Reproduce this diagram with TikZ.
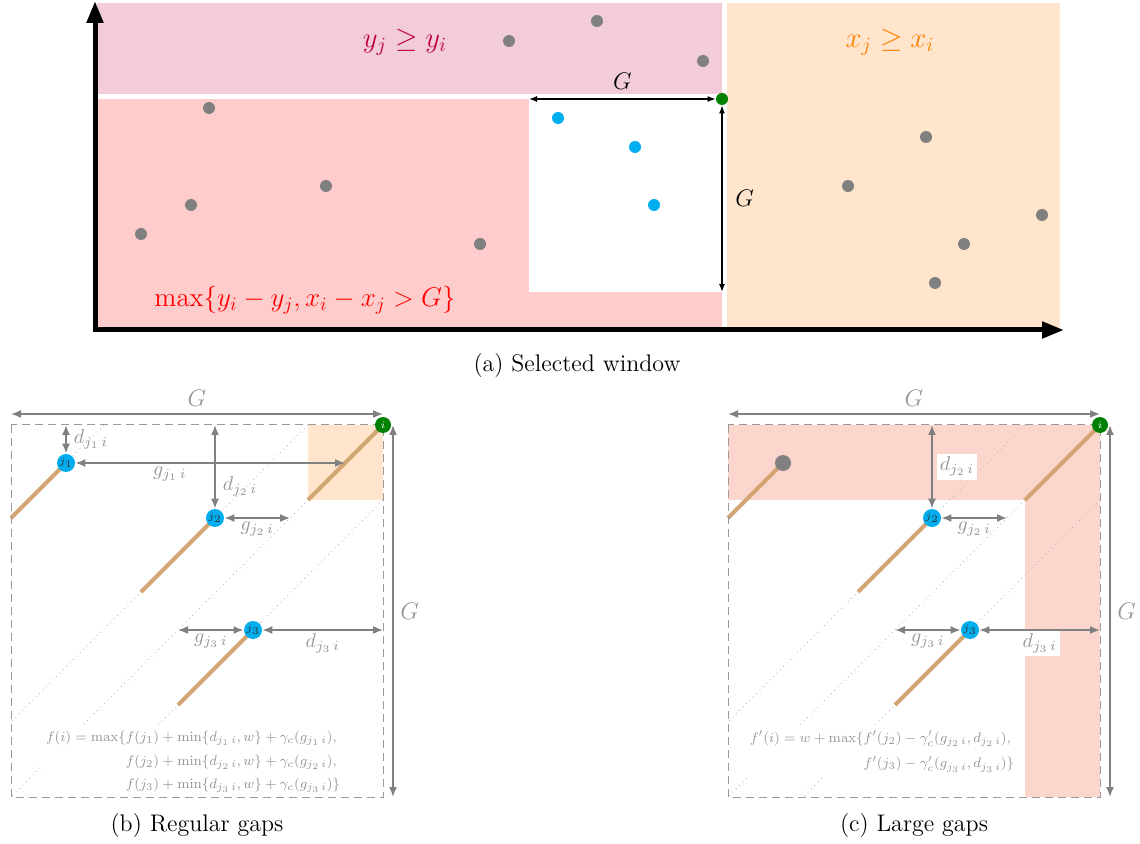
\documentclass[tikz,border=0pt]{standalone}
\usepackage{amsmath,amssymb,graphicx}
\usetikzlibrary{arrows.meta,positioning}
\definecolor{ptcyan}{RGB}{0,174,239}
\definecolor{ptgreen}{RGB}{0,128,0}
\definecolor{chainbrown}{RGB}{212,165,116}
\definecolor{gapred}{RGB}{252,214,204}
\definecolor{lblgray}{RGB}{150,150,150}
\definecolor{arrgray}{RGB}{128,128,128}

\begin{document}
\begin{tikzpicture}[x=0.5pt,y=-0.5pt,every node/.style={font=\small},
  graypt/.style={circle,fill=gray,inner sep=0pt,minimum size=6pt},
  cyanpt/.style={circle,fill=ptcyan,inner sep=0pt,minimum size=6pt},
  jnode/.style={circle,fill=ptcyan,text=black!80,inner sep=0pt,minimum size=9pt,font=\tiny},
  inode/.style={circle,fill=ptgreen,text=white,inner sep=0pt,minimum size=8pt,font=\tiny},
  winarr/.style={black,line width=.6pt,{Latex[length=4pt,width=3pt]}-{Latex[length=4pt,width=3pt]}},
  gaparr/.style={arrgray,line width=.8pt,{Latex[length=5pt,width=4pt]}-{Latex[length=5pt,width=4pt]}},
  gaplbl/.style={text=lblgray,font=\normalsize,inner sep=1.5pt},
  glbl/.style={text=lblgray,font=\large},
  formula/.style={fill=white,text=lblgray,font=\footnotesize,inner sep=2pt},
  diag/.style={gray!60,line width=.4pt,dotted},
  chain/.style={chainbrown,line width=2pt},
  box/.style={arrgray!80,line width=.5pt,dash pattern=on 4pt off 2.5pt}]
\useasboundingbox (0,0) rectangle (1140,844);

% (a) selected window
\fill[purple!20] (97,3) rectangle (722,94);
\fill[red!20] (97,99) rectangle (722,328);
\fill[white] (529,99) rectangle (722,292);
\fill[orange!20] (727,3) rectangle (1060,328);
\coordinate (ytop) at (95,1);
\coordinate (orig) at (95,330);
\coordinate (xend) at (1064,330);
\draw[line width=2.5pt,{Triangle[length=11pt,width=8pt]}-{Triangle[length=11pt,width=8pt]}] (ytop) -- (orig) -- (xend);
\node[text=purple,font=\Large] (ylbl) at (405,42) {$y_j \geq y_i$};
\node[text=red,font=\Large] (mlbl) at (305,300) {\scalebox{.94}{$\max\{y_i-y_j, x_i-x_j>G\}$}};
\node[text=orange,font=\Large] (xlbl) at (890,42) {$x_j \geq x_i$};
\foreach \px/\py [count=\k] in {509/41,597/21,703/61,209/108,191/205,141/234,326/186,480/244,926/137,848/186,1042/215,964/244,935/283}
  \node[graypt] (g\k) at (\px,\py) {};
\node[cyanpt] (c1) at (558,118) {};
\node[cyanpt] (c2) at (635,147) {};
\node[cyanpt] (c3) at (654,205) {};
\node[circle,fill=ptgreen,inner sep=0pt,minimum size=6pt] (ia) at (722,99) {};
\coordinate (wl) at (529,99);
\coordinate (wb) at (722,292);
\draw[winarr] (wl) -- (ia) node[midway,above=1pt,font=\large] {$G$};
\draw[winarr] (ia) -- (wb) node[midway,right=3pt,font=\large] {$G$};
\node[font=\large] (capa) at (577,366) {(a) Selected window};

% (b) regular gaps
\fill[orange!20] (308,425) rectangle (383,500);
\draw[diag] (383,425) -- (11,797);
\draw[diag] (308,425) -- (11,722);
\draw[diag] (104,425) -- (66,463);
\draw[diag] (383,500) -- (86,797);
\draw[chain] (383,425) -- (308,500);
\draw[chain] (66,463) -- (11,518);
\draw[chain] (215,518) -- (141,592);
\draw[chain] (253,630) -- (178,705);
\node[formula] (fb) at (193,762)
  {\scalebox{.87}{\setlength{\jot}{4pt}$\begin{aligned} f(i)=\max\{&f(j_1)+\min\{d_{j_1\,i},w\}+\gamma_c(g_{j_1\,i}),\\
   &f(j_2)+\min\{d_{j_2\,i},w\}+\gamma_c(g_{j_2\,i}),\\
   &f(j_3)+\min\{d_{j_3\,i},w\}+\gamma_c(g_{j_3\,i})\}\end{aligned}$}};
\draw[box] (11,425) rectangle (383,797);
\node[inode] (ib) at (383,425) {$i$};
\node[jnode] (j1b) at (66,463) {$j_1$};
\node[jnode] (j2b) at (215,518) {$j_2$};
\node[jnode] (j3b) at (253,630) {$j_3$};
\coordinate (t1b) at (66,425);
\coordinate (h1b) at (345,463);
\coordinate (t2b) at (215,425);
\coordinate (h2b) at (290,518);
\coordinate (h3b) at (178,630);
\coordinate (r3b) at (383,630);
\draw[gaparr] (t1b) -- (j1b) node[midway,right=2pt,gaplbl] {$d_{j_1\,i}$};
\draw[gaparr] (j1b) -- (h1b) node[pos=.35,below,gaplbl] {$g_{j_1\,i}$};
\draw[gaparr] (t2b) -- (j2b) node[pos=.74,right=2pt,gaplbl] {$d_{j_2\,i}$};
\draw[gaparr] (j2b) -- (h2b) node[midway,below,gaplbl] {$g_{j_2\,i}$};
\draw[gaparr] (h3b) -- (j3b) node[midway,below,gaplbl] {$g_{j_3\,i}$};
\draw[gaparr] (j3b) -- (r3b) node[midway,below,gaplbl] {$d_{j_3\,i}$};
\coordinate (gtlb) at (11,414);
\coordinate (gtrb) at (383,414);
\coordinate (grtb) at (393,425);
\coordinate (grbb) at (393,797);
\draw[gaparr] (gtlb) -- (gtrb) node[midway,above,glbl] {$G$};
\draw[gaparr] (grtb) -- (grbb) node[midway,right,glbl] {$G$};
\node[font=\large] (capb) at (197,826) {(b) Regular gaps};

% (c) large gaps
\fill[gapred] (728,425) rectangle (1100,500);
\fill[gapred] (1025,500) rectangle (1100,797);
\draw[diag] (1025,500) -- (728,797);
\draw[diag] (1025,425) -- (728,722);
\draw[diag] (1100,500) -- (803,797);
\draw[chain] (1100,425) -- (1025,500);
\draw[chain] (783,463) -- (728,518);
\draw[chain] (932,518) -- (858,592);
\draw[chain] (970,630) -- (895,705);
\node[formula] (fc) at (882,752)
  {\scalebox{.87}{\setlength{\jot}{4pt}$\begin{aligned} f'(i)=w+\max\{&f'(j_2)-\gamma'_c(g_{j_2\,i},d_{j_2\,i}),\\
   &f'(j_3)-\gamma'_c(g_{j_3\,i},d_{j_3\,i})\}\end{aligned}$}};
\draw[box] (728,425) rectangle (1100,797);
\node[inode] (ic) at (1100,425) {$i$};
\node[circle,fill=gray,inner sep=0pt,minimum size=8pt] (j1c) at (783,463) {};
\node[jnode] (j2c) at (932,518) {$j_2$};
\node[jnode] (j3c) at (970,630) {$j_3$};
\coordinate (t2c) at (932,425);
\coordinate (h2c) at (1007,518);
\coordinate (h3c) at (895,630);
\coordinate (r3c) at (1100,630);
\draw[gaparr] (t2c) -- (j2c) node[midway,right=2pt,gaplbl,fill=white] {$d_{j_2\,i}$};
\draw[gaparr] (j2c) -- (h2c) node[midway,below,gaplbl] {$g_{j_2\,i}$};
\draw[gaparr] (h3c) -- (j3c) node[midway,below,gaplbl] {$g_{j_3\,i}$};
\draw[gaparr] (j3c) -- (r3c) node[midway,below,gaplbl,fill=white] {$d_{j_3\,i}$};
\coordinate (gtlc) at (728,414);
\coordinate (gtrc) at (1100,414);
\coordinate (grtc) at (1110,425);
\coordinate (grbc) at (1110,797);
\draw[gaparr] (gtlc) -- (gtrc) node[midway,above,glbl] {$G$};
\draw[gaparr] (grtc) -- (grbc) node[midway,right,glbl] {$G$};
\node[font=\large] (capc) at (914,826) {(c) Large gaps};
\end{tikzpicture}
\end{document}
